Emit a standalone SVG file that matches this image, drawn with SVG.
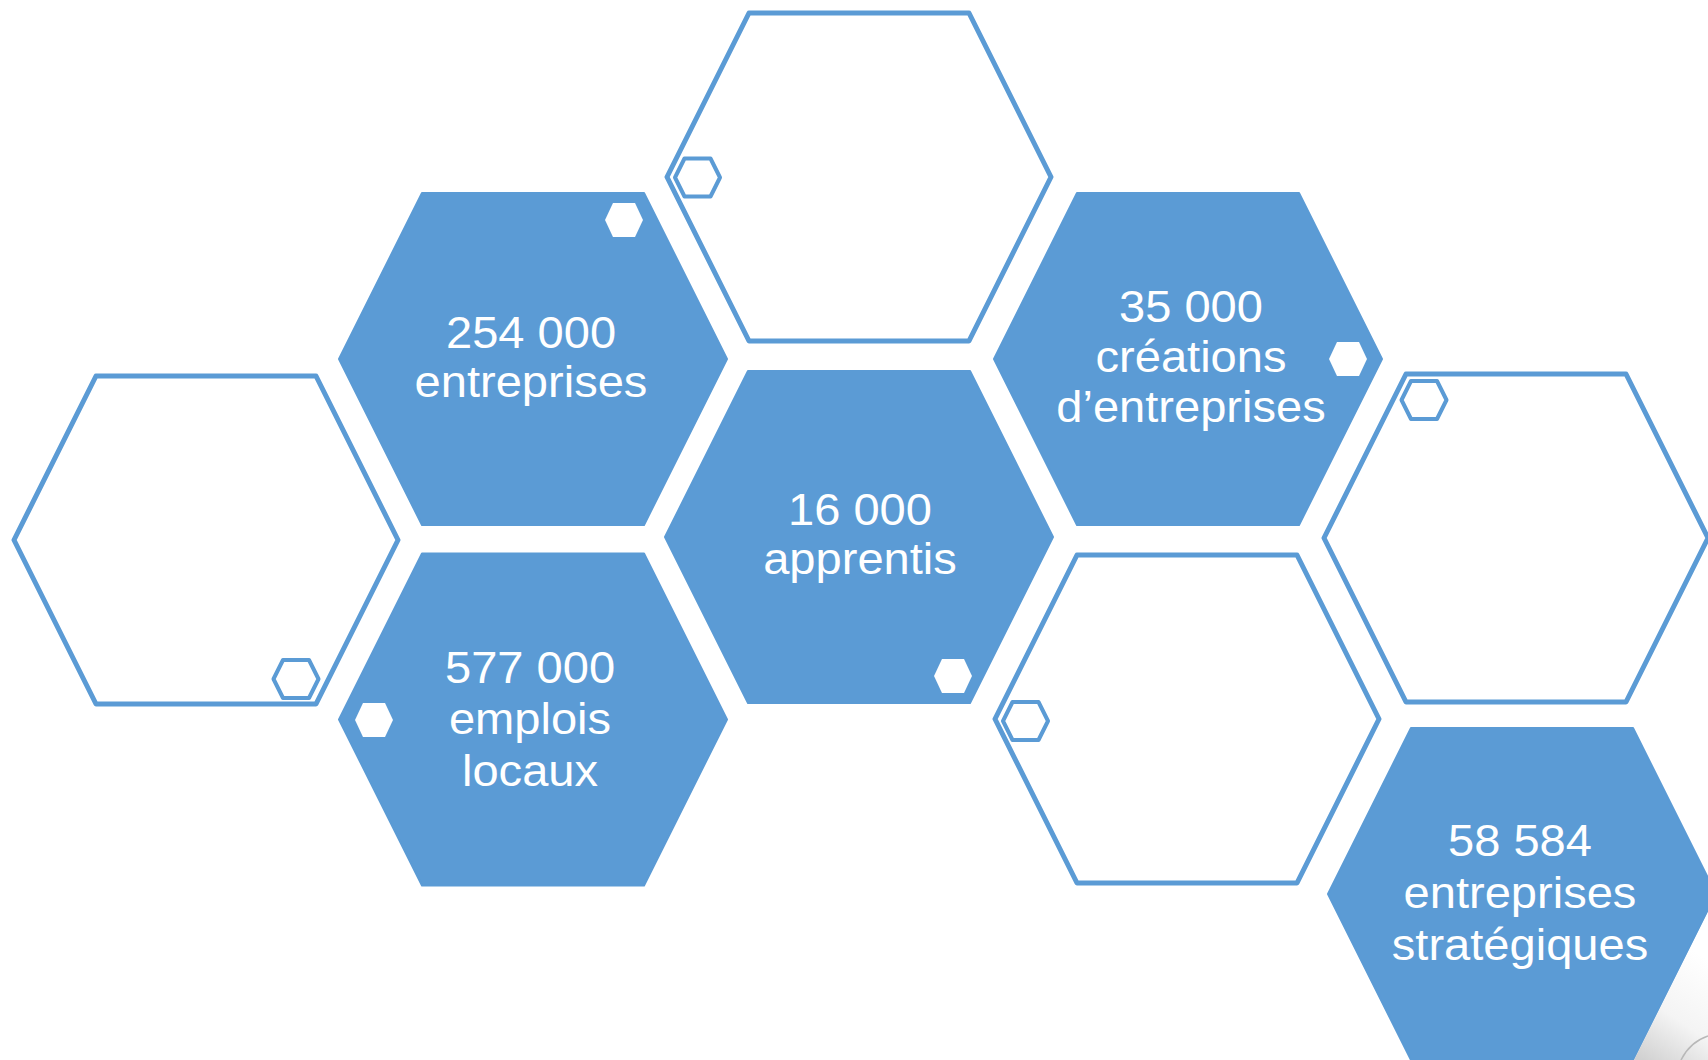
<svg xmlns="http://www.w3.org/2000/svg" xmlns:xlink="http://www.w3.org/1999/xlink" width="1708" height="1060" viewBox="0 0 1708 1060">
  <style>
    .fill { fill: #5B9BD5; stroke: #5B9BD5; stroke-width: 2; stroke-linejoin: round; }
    .outline { fill: #FFFFFF; stroke: #5B9BD5; stroke-width: 5; stroke-linejoin: round; }
    .dot { fill: #FFFFFF; }
    .ring { fill: none; stroke: #5B9BD5; stroke-width: 4; stroke-linejoin: round; }
    .label { font-family: "Liberation Sans", Arial, sans-serif; font-size: 44px; fill: #FFFFFF; text-anchor: middle; }
  </style>
  <defs>
    <path id="hexFill" d="M-111,-166 L111,-166 L194,0 L111,166 L-111,166 L-194,0 Z"/>
    <path id="hexLine" d="M-110,-164 L110,-164 L192,0 L110,164 L-110,164 L-192,0 Z"/>
    <path id="hexDot" d="M-11,-17 L11,-17 L19,0 L11,17 L-11,17 L-19,0 Z"/>
    <path id="hexRing" d="M-13,-19 L13,-19 L22.5,0 L13,19 L-13,19 L-22.5,0 Z"/>
    <linearGradient id="curl" x1="1640" y1="1060" x2="1708" y2="960" gradientUnits="userSpaceOnUse">
      <stop offset="0" stop-color="#D0D0D0"/>
      <stop offset="0.45" stop-color="#F4F4F4"/>
      <stop offset="1" stop-color="#FFFFFF"/>
    </linearGradient>
  </defs>
  <rect x="0" y="0" width="1708" height="1060" fill="#FFFFFF"/>

  <g id="hex-top">
    <use xlink:href="#hexLine" href="#hexLine" class="outline" x="859" y="177"/>
    <use xlink:href="#hexRing" href="#hexRing" class="ring" x="697.5" y="177.5"/>
  </g>

  <g id="hex-254000">
    <use xlink:href="#hexFill" href="#hexFill" class="fill" x="533" y="359"/>
    <use xlink:href="#hexDot" href="#hexDot" class="dot" x="624" y="220"/>
    <g transform="translate(531 0) scale(1.07 1)">
      <text class="label" x="0" y="348">254 000</text>
      <text class="label" x="0" y="397">entreprises</text>
    </g>
  </g>

  <g id="hex-35000">
    <use xlink:href="#hexFill" href="#hexFill" class="fill" x="1188" y="359"/>
    <use xlink:href="#hexDot" href="#hexDot" class="dot" x="1348" y="359"/>
    <g transform="translate(1191 0) scale(1.07 1)">
      <text class="label" x="0" y="322">35 000</text>
      <text class="label" x="0" y="372">créations</text>
      <text class="label" x="0" y="422">d’entreprises</text>
    </g>
  </g>

  <g id="hex-left">
    <use xlink:href="#hexLine" href="#hexLine" class="outline" x="206" y="540"/>
    <use xlink:href="#hexRing" href="#hexRing" class="ring" x="296" y="679"/>
  </g>

  <g id="hex-16000">
    <use xlink:href="#hexFill" href="#hexFill" class="fill" x="859" y="537"/>
    <use xlink:href="#hexDot" href="#hexDot" class="dot" x="953" y="676"/>
    <g transform="translate(860 0) scale(1.07 1)">
      <text class="label" x="0" y="525">16 000</text>
      <text class="label" x="0" y="574">apprentis</text>
    </g>
  </g>

  <g id="hex-right">
    <use xlink:href="#hexLine" href="#hexLine" class="outline" x="1516" y="538"/>
    <use xlink:href="#hexRing" href="#hexRing" class="ring" x="1424" y="400"/>
  </g>

  <g id="hex-577000">
    <use xlink:href="#hexFill" href="#hexFill" class="fill" x="533" y="719.5"/>
    <use xlink:href="#hexDot" href="#hexDot" class="dot" x="374" y="720"/>
    <g transform="translate(530 0) scale(1.07 1)">
      <text class="label" x="0" y="683">577 000</text>
      <text class="label" x="0" y="734">emplois</text>
      <text class="label" x="0" y="786">locaux</text>
    </g>
  </g>

  <g id="hex-bottom-mid">
    <use xlink:href="#hexLine" href="#hexLine" class="outline" x="1187" y="719"/>
    <use xlink:href="#hexRing" href="#hexRing" class="ring" x="1025.5" y="721"/>
  </g>

  <g id="hex-58584">
    <use xlink:href="#hexFill" href="#hexFill" class="fill" x="1522" y="894"/>
    <g transform="translate(1520 0) scale(1.07 1)">
      <text class="label" x="0" y="856">58 584</text>
      <text class="label" x="0" y="908">entreprises</text>
      <text class="label" x="0" y="960">stratégiques</text>
    </g>
  </g>

  <g id="connectors"></g>

  <g id="page-curl">
    <path d="M1634,1060 L1708,912 L1708,1060 Z" fill="url(#curl)"/>
    <path d="M1681,1060 Q1690,1042 1708,1036" fill="none" stroke="#B8B8B8" stroke-width="1.5"/>
  </g>
</svg>
